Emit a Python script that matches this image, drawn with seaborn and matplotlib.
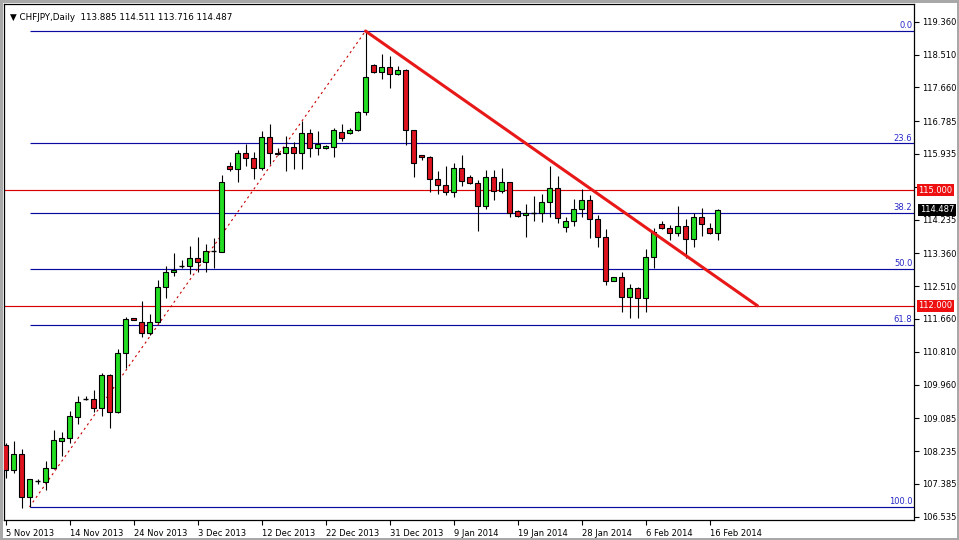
import numpy as np
import pandas as pd
import matplotlib
matplotlib.use("Agg")
import matplotlib.pyplot as plt
import matplotlib.transforms as mtransforms
import seaborn as sns

# ---------------- data ----------------
opens = [108.39, 107.74, 108.16, 107.05, 107.45, 107.44, 107.80, 108.50, 108.57, 109.13,
         109.58, 109.58, 109.36, 110.21, 109.26, 110.77, 111.68, 111.59, 111.29, 111.59,
         112.48, 112.87, 113.035, 113.04, 113.23, 113.14, 113.42, 113.40, 115.63, 115.54,
         115.95, 115.82, 115.56, 116.37, 115.96, 115.95, 116.12, 115.95, 116.47, 116.08,
         116.09, 116.11, 116.51, 116.47, 116.55, 117.01, 118.24, 118.06, 118.18, 118.00,
         118.11, 116.55, 115.91, 115.86, 115.28, 115.12, 114.96, 115.56, 115.34, 115.17,
         114.59, 115.33, 114.98, 115.20, 114.46, 114.35, 114.405, 114.40, 114.68, 115.06,
         114.05, 114.20, 114.50, 114.73, 114.24, 113.79, 112.64, 112.74, 112.22, 112.45,
         112.19, 113.26, 114.11, 114.01, 113.88, 114.07, 113.72, 114.31, 114.01, 113.885]
highs = [108.44, 108.50, 108.29, 107.52, 107.51, 107.99, 108.78, 108.72, 109.27, 109.67,
         109.66, 109.82, 110.25, 110.23, 110.88, 111.72, 111.69, 112.12, 111.78, 112.67,
         113.03, 113.36, 113.19, 113.55, 113.79, 113.60, 113.75, 115.39, 115.72, 116.04,
         116.19, 115.98, 116.53, 116.71, 116.08, 116.40, 116.25, 116.79, 116.58, 116.53,
         116.16, 116.61, 116.70, 116.62, 117.05, 119.12, 118.26, 118.52, 118.48, 118.21,
         118.13, 116.55, 115.91, 115.88, 115.49, 115.62, 115.69, 115.92, 115.38, 115.26,
         115.52, 115.52, 115.56, 115.21, 114.48, 114.64, 114.84, 114.90, 115.62, 115.36,
         114.31, 114.78, 115.02, 114.86, 114.35, 113.98, 112.75, 112.88, 112.56, 112.49,
         113.46, 114.01, 114.20, 114.09, 114.59, 114.25, 114.41, 114.53, 114.14, 114.511]
lows = [107.54, 107.67, 106.77, 106.79, 107.38, 107.23, 107.77, 108.12, 108.45, 108.94,
        109.56, 109.26, 109.15, 108.84, 109.21, 110.40, 111.62, 111.18, 111.24, 111.55,
        112.19, 112.77, 112.97, 112.82, 112.87, 112.88, 112.97, 113.39, 115.50, 115.21,
        115.63, 115.28, 115.52, 115.67, 115.92, 115.50, 115.54, 115.54, 115.86, 115.91,
        116.07, 115.86, 116.28, 116.45, 116.54, 116.94, 118.02, 117.88, 117.65, 117.98,
        116.17, 115.34, 115.78, 114.96, 114.90, 114.87, 114.83, 115.11, 115.16, 113.95,
        114.50, 114.74, 114.91, 114.31, 114.30, 113.77, 114.20, 114.18, 114.29, 114.14,
        113.92, 114.08, 114.31, 113.76, 113.53, 112.53, 112.63, 111.85, 111.68, 111.69,
        111.85, 112.97, 113.99, 113.70, 113.82, 113.23, 113.53, 113.82, 113.85, 113.716]
closes = [107.74, 108.16, 107.05, 107.51, 107.46, 107.81, 108.51, 108.57, 109.14, 109.50,
          109.585, 109.36, 110.21, 109.26, 110.77, 111.65, 111.62, 111.29, 111.59, 112.48,
          112.87, 112.93, 113.04, 113.23, 113.14, 113.42, 113.425, 115.20, 115.54, 115.95,
          115.82, 115.56, 116.37, 115.95, 115.94, 116.12, 115.95, 116.47, 116.08, 116.18,
          116.14, 116.55, 116.34, 116.55, 117.01, 117.92, 118.06, 118.18, 118.00, 118.10,
          116.55, 115.69, 115.85, 115.28, 115.12, 114.96, 115.56, 115.24, 115.17, 114.59,
          115.33, 114.98, 115.20, 114.40, 114.33, 114.40, 114.415, 114.69, 115.06, 114.27,
          114.20, 114.50, 114.73, 114.24, 113.77, 112.64, 112.74, 112.22, 112.45, 112.19,
          113.26, 113.92, 114.01, 113.88, 114.07, 113.72, 114.31, 114.11, 113.88, 114.487]

date_labels = ["5 Nov 2013", "14 Nov 2013", "24 Nov 2013", "3 Dec 2013", "12 Dec 2013",
               "22 Dec 2013", "31 Dec 2013", "9 Jan 2014", "19 Jan 2014", "28 Jan 2014",
               "6 Feb 2014", "16 Feb 2014"]
price_ticks = [119.360, 118.510, 117.660, 116.785, 115.935, 115.085, 114.235, 113.360,
               112.510, 111.660, 110.810, 109.960, 109.085, 108.235, 107.385, 106.535]
hidden_tick = 115.085  # covered by the 115.000 level label in the reference

fib_low, fib_high = 106.79, 119.12
fib_low_bar, fib_high_bar = 3, 45
fib_ratios = [0.0, 23.6, 38.2, 50.0, 61.8, 100.0]
hlines_red = [115.000, 112.000]
trend_bars = [45, 94]
trend_prices = [119.12, 112.00]
title = "\u25BC CHFJPY,Daily  113.885 114.511 113.716 114.487"
last_price = 114.487

# ---------------- figure ----------------
sns.set_theme(style="white")
plt.rcParams["font.family"] = ["DejaVu Sans"]

W, H = 959, 540
fig = plt.figure(figsize=(W / 100, H / 100), dpi=100, facecolor="white")
ax = fig.add_axes([4 / W, 1 - 520 / H, (914 - 4) / W, (520 - 4) / H])
ax.set_facecolor("white")

df = pd.DataFrame({"o": opens, "h": highs, "l": lows, "c": closes})
df["x"] = np.arange(len(df))
df["up"] = df["c"] >= df["o"]
df["doji"] = (df["c"] - df["o"]).abs() < 0.012

GREEN = "#22dd22"
RED = "#dd1420"
bw = 0.62

# wicks
ax.vlines(df["x"], df["l"], df["h"], color="black", lw=0.8, zorder=3)
# bodies
nd = df[~df["doji"]]
ax.bar(nd["x"], (nd["c"] - nd["o"]).abs(), bottom=np.minimum(nd["o"], nd["c"]), width=bw,
       color=np.where(nd["up"], GREEN, RED), edgecolor="black", linewidth=0.8, zorder=4)
dj = df[df["doji"]]
ax.hlines((dj["o"] + dj["c"]) / 2, dj["x"] - bw / 2, dj["x"] + bw / 2, color="black", lw=1.0, zorder=4)

xmin, xmax = -0.19, 113.56
ax.set_xlim(xmin, xmax)
ymin, ymax = 106.45, 119.82
ax.set_ylim(ymin, ymax)

# fibonacci levels
rng = fib_high - fib_low
for r in fib_ratios:
    lvl = fib_high - rng * r / 100
    ax.hlines(lvl, fib_low_bar, xmax, color="#0a0aa0", lw=0.85, zorder=2)
    ax.text(xmax - 0.2, lvl + 0.02, f"{r:.1f}", color="#2828c8", fontsize=6, ha="right",
            va="bottom", zorder=6)

# red horizontal levels
for lvl in hlines_red:
    ax.axhline(lvl, color="#d80000", lw=0.85, zorder=2)

# fib base line (dotted)
fib_df = pd.DataFrame({"x": [fib_low_bar, fib_high_bar], "y": [fib_low, fib_high]})
sns.lineplot(data=fib_df, x="x", y="y", ax=ax, color="#c80000", lw=0.8,
             linestyle=(0, (2, 3)), zorder=2, legend=False)
# trend line
tr_df = pd.DataFrame({"x": trend_bars, "y": trend_prices})
sns.lineplot(data=tr_df, x="x", y="y", ax=ax, color="#e81818", lw=2.2, zorder=5, legend=False)

# axes cosmetics
for s in ax.spines.values():
    s.set_color("black")
    s.set_linewidth(0.9)
ax.yaxis.tick_right()
ax.set_yticks(price_ticks)
ax.set_yticklabels(["" if abs(v - hidden_tick) < 1e-6 else f"{v:.3f}" for v in price_ticks])
ax.set_xticks(np.arange(0, 8 * len(date_labels), 8))
ax.set_xticklabels(date_labels, ha="left")
ax.tick_params(axis="both", direction="out", length=3.5, width=0.8, color="black",
               labelsize=6, labelcolor="black", pad=2)
ax.tick_params(axis="y", right=True, left=False)
ax.tick_params(axis="x", bottom=True, pad=3)
ax.set_xlabel("")
ax.set_ylabel("")
ax.grid(False)

# price labels on the axis
trans = mtransforms.blended_transform_factory(ax.transAxes, ax.transData)
for lvl in hlines_red:
    ax.text(1.0045, lvl, f"{lvl:.3f}", transform=trans, color="white", fontsize=6,
            ha="left", va="center", zorder=10, clip_on=False,
            bbox=dict(boxstyle="square,pad=0.18", fc="#ee1010", ec="none"))
ax.text(1.0065, last_price, f"{last_price:.3f}", transform=trans, color="white", fontsize=6,
        ha="left", va="center", zorder=10, clip_on=False,
        bbox=dict(boxstyle="square,pad=0.18", fc="black", ec="none"))

# title
ax.text(6 / 910, 1 - 9 / 516, title, transform=ax.transAxes, fontsize=6.3, color="black",
        ha="left", va="top", zorder=10)

fig.patch.set_edgecolor("#a8a8a8")
fig.patch.set_linewidth(2.5)

fig.savefig("out.png", dpi=100, facecolor=fig.get_facecolor(), edgecolor=fig.get_edgecolor())
